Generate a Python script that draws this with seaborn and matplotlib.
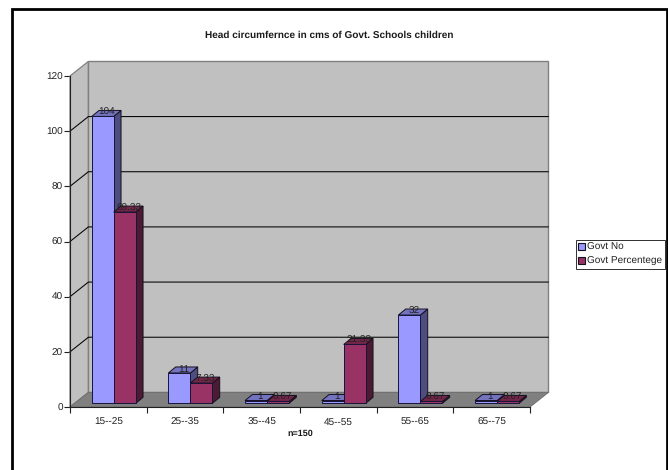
import matplotlib
matplotlib.use("Agg")
import matplotlib.pyplot as plt
from matplotlib.patches import Polygon, Rectangle
import pandas as pd
import seaborn as sns

age_groups = ["15--25", "25--35", "35--45", "45--55", "55--65", "65--75"]
govt_no = [104, 11, 1, 1, 32, 1]
govt_pct = [69.33, 7.33, 0.67, 21.33, 0.67, 0.67]
no_labels = ["104", "11", "1", "1", "32", "1"]
pct_labels = ["69.33", "7.33", "0.67", "21.33", "0.67", "0.67"]
series_names = ["Govt No", "Govt Percentege"]
title = "Head circumfernce in cms of Govt. Schools children"
x_title = "n=150"

FACE = ["#9999FF", "#993366"]
SIDE = ["#4D4D80", "#4D1A33"]
TOP = ["#7373BF", "#732649"]

sns.set_theme(style="white")
plt.rcParams["font.family"] = ["Liberation Sans", "DejaVu Sans"]
plt.rcParams["text.hinting"] = "no_hinting"
plt.rcParams["text.hinting_factor"] = 1

W, H = 668, 470
fig = plt.figure(figsize=(W / 100, H / 100), dpi=100)
fig.patch.set_facecolor("white")
L, R, Y0, Y120 = 70, 530, 407, 76
ax = fig.add_axes([L / W, 1 - Y0 / H, (R - L) / W, (Y0 - Y120) / H])

df = pd.DataFrame({
    "group": age_groups * 2,
    "series": [series_names[0]] * 6 + [series_names[1]] * 6,
    "value": govt_no + govt_pct,
})
sns.barplot(data=df, x="group", y="value", hue="series", order=age_groups,
            hue_order=series_names, palette=FACE, width=0.574, gap=0,
            saturation=1, edgecolor="#15153A", linewidth=0.7, legend=False,
            ax=ax, zorder=5)
ax.set_xlim(-0.5, 5.5)
ax.set_ylim(0, 120)

# pixel lengths expressed in data units
ux = 6 / (R - L)
uy = 120 / (Y0 - Y120)
wall_dx, wall_dy = 18.4 * ux, 14.6 * uy
shift_x, shift_y = 5.4 * ux, 3.7 * uy
bar_dx, bar_dy = 7.3 * ux, 6 * uy

# floor and walls of the box
x0, x1 = -0.5, 5.5
ax.add_patch(Polygon([(x0, 0), (x0 + wall_dx, wall_dy), (x0 + wall_dx, 120 + wall_dy), (x0, 120)],
                     closed=True, fc="#C0C0C0", ec="#808080", lw=0.9, clip_on=False, zorder=1))
ax.add_patch(Rectangle((x0 + wall_dx, wall_dy), x1 - x0, 120, fc="#C0C0C0", ec="#808080",
                       lw=1.0, clip_on=False, zorder=1))
ax.add_patch(Polygon([(x0, 0), (x1, 0), (x1 + wall_dx, wall_dy), (x0 + wall_dx, wall_dy)],
                     closed=True, fc="#808080", ec="#707070", lw=0.7, clip_on=False, zorder=1))

# gridlines run along the side wall and across the back wall
for v in range(20, 120, 20):
    ax.plot([x0, x0 + wall_dx, x1 + wall_dx], [v, v + wall_dy, v + wall_dy],
            color="black", lw=0.75, clip_on=False, zorder=2, solid_joinstyle="miter")

# extrude each front face and label it
n = len(age_groups)
labels = no_labels + pct_labels
for i, p in enumerate(ax.patches[:2 * n]):
    s = i // n
    p.set_x(p.get_x() + shift_x)
    p.set_y(shift_y)
    p.set_zorder(5 + s * 2 + 0.5)
    xa, xb = p.get_x(), p.get_x() + p.get_width()
    ya, yb = shift_y, shift_y + p.get_height()
    z = 5 + s * 2
    ax.add_patch(Polygon([(xb, ya), (xb + bar_dx, ya + bar_dy), (xb + bar_dx, yb + bar_dy), (xb, yb)],
                         closed=True, fc=SIDE[s], ec="#15101F", lw=0.7, clip_on=False, zorder=z))
    ax.add_patch(Polygon([(xa, yb), (xb, yb), (xb + bar_dx, yb + bar_dy), (xa + bar_dx, yb + bar_dy)],
                         closed=True, fc=TOP[s], ec="#15101F", lw=0.7, clip_on=False, zorder=z))
    ax.text((xa + xb) / 2 + 4.3 * ux, yb + 1.4, labels[i], ha="center", va="center",
            fontsize=7, color="#222222", zorder=10, clip_on=False)

# axes, ticks and their labels
sns.despine(ax=ax, top=True, right=True)
for side in ("left", "bottom"):
    ax.spines[side].set_color("#202020")
    ax.spines[side].set_linewidth(0.8)
    ax.spines[side].set_zorder(4)
ax.set_yticks(range(0, 121, 20))
ax.tick_params(axis="y", length=4, width=0.8, color="#202020", labelsize=7, pad=1, labelcolor="#222222", left=True)
ax.set_xticks([v - 0.5 for v in range(7)], minor=False)
ax.set_xticklabels([""] * 7)
ax.tick_params(axis="x", length=4, width=0.8, color="#202020", bottom=True)
for i, lab in enumerate(age_groups):
    ax.annotate(lab, xy=(i, 0), xycoords=("data", "axes fraction"), xytext=(0, -11),
                textcoords="offset points", ha="center", va="center", fontsize=7, color="#222222")
ax.set_xlabel("")
ax.set_ylabel("")
ax.patch.set_visible(False)

fig.text(300.5 / W, 1 - 433.5 / H, x_title, ha="center", va="center", fontsize=6.6, fontweight="bold", color="#1A1A1A")
fig.text(329.5 / W, 1 - 35 / H, title, ha="center", va="center", fontsize=7.5, fontweight="bold", color="#1A1A1A")

# legend box
handles = [Rectangle((0, 0), 1, 1, fc=FACE[j], ec="#15101F", lw=0.8) for j in range(2)]
leg = fig.legend(handles, series_names, loc="upper left",
                 bbox_to_anchor=(575.5 / W, 1 - 240 / H), fontsize=7, frameon=True, fancybox=False,
                 edgecolor="#303030", framealpha=1, handlelength=0.7, handleheight=0.7,
                 handletextpad=0.2, labelspacing=0.5, borderpad=0.28, borderaxespad=0,
                 labelcolor="#222222")
leg.get_frame().set_linewidth(0.7)

# chart frame: open at the bottom edge of the image
fig.add_artist(plt.Line2D([12.5 / W, 12.5 / W, 667 / W, 667 / W], [0, 1 - 9 / H, 1 - 9 / H, 0],
                          transform=fig.transFigure, color="black", lw=2.0,
                          solid_joinstyle="miter", zorder=0))

fig.savefig("out.png", dpi=100)
